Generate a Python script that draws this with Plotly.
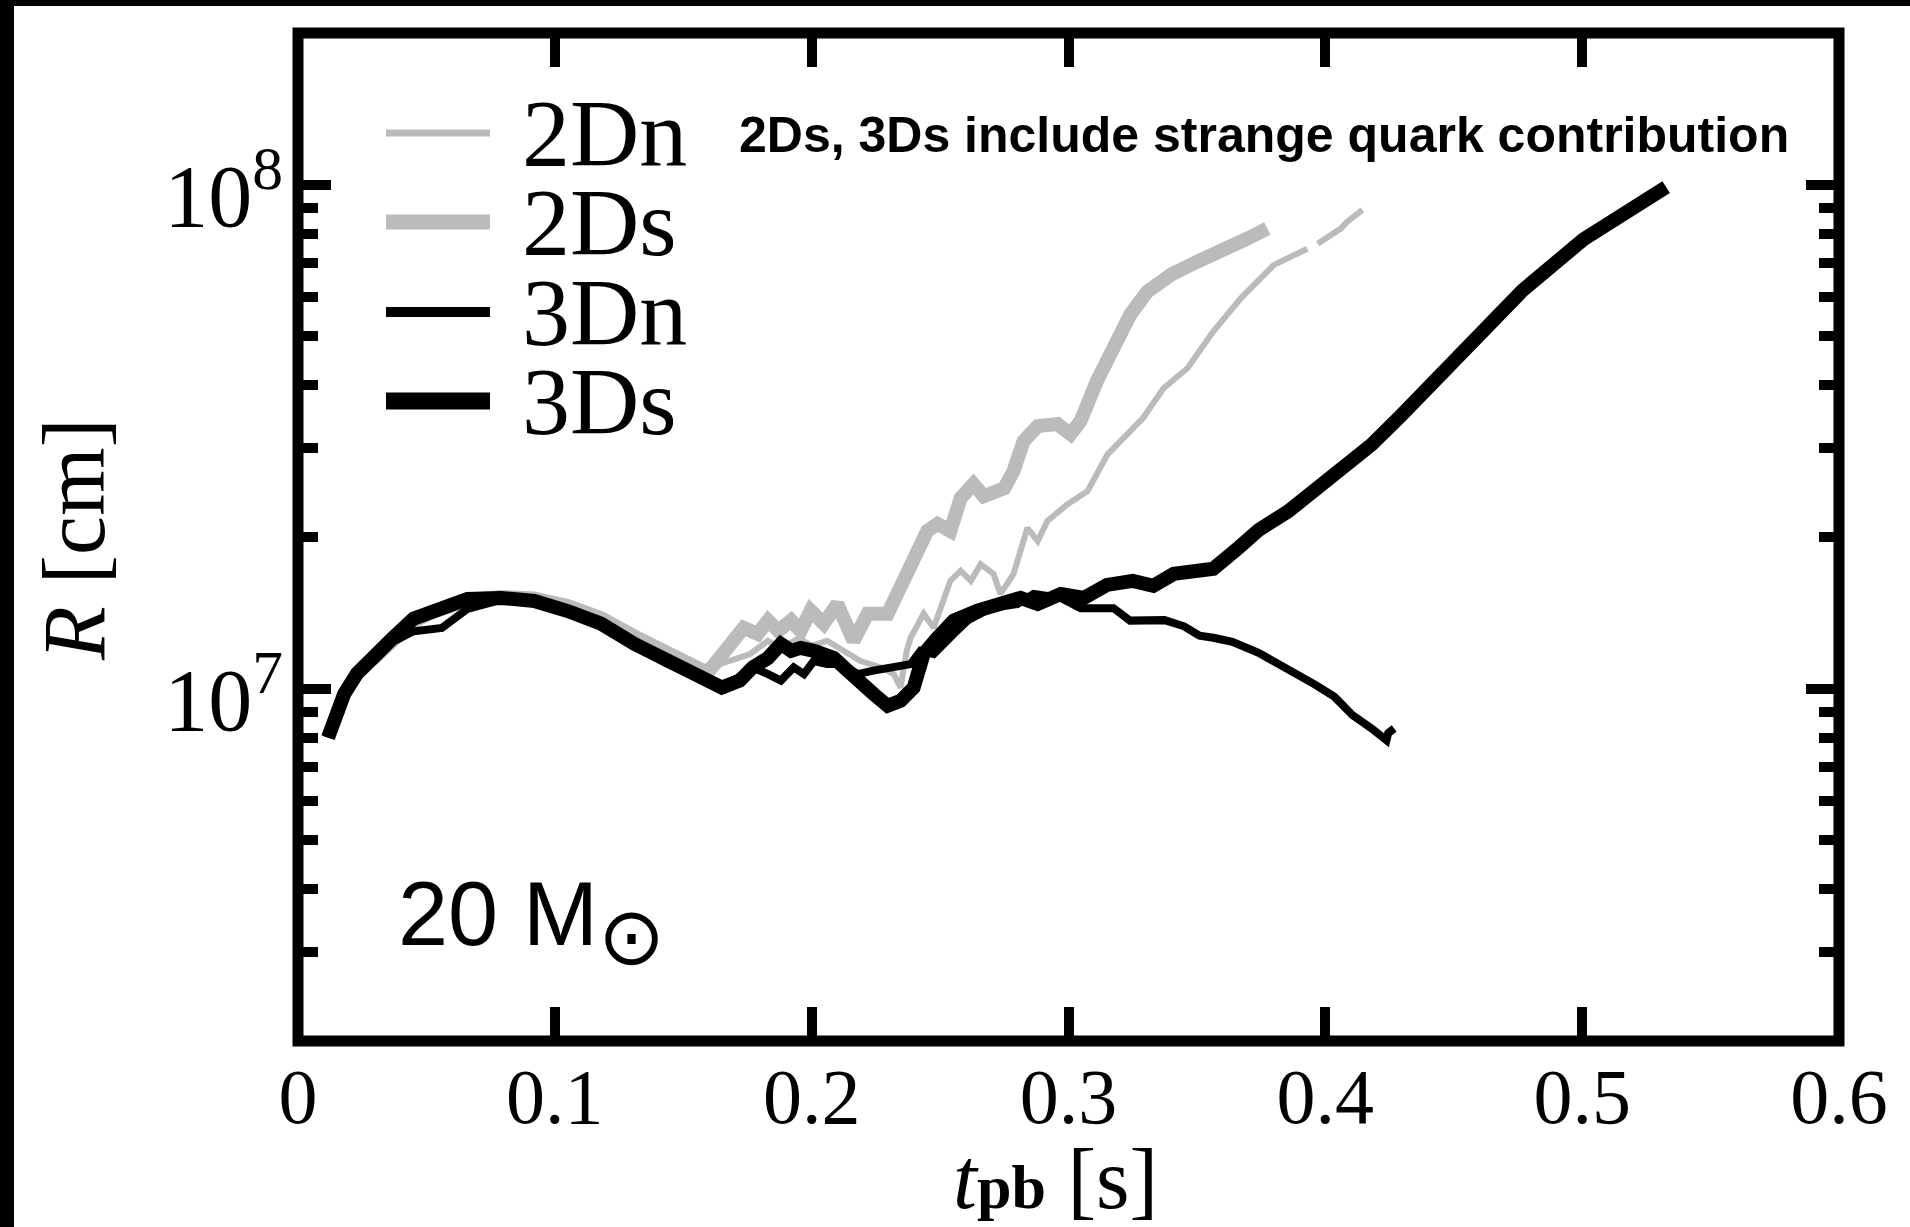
import math
import plotly.graph_objects as go

# ---------------- data ----------------
t_2Dn = [0.0117, 0.014, 0.018, 0.023, 0.030, 0.037, 0.045, 0.051, 0.056, 0.066, 0.079, 0.092, 0.105,
         0.118, 0.131, 0.144, 0.157, 0.160, 0.165, 0.172, 0.176, 0.183, 0.188, 0.195, 0.200, 0.206,
         0.212, 0.219, 0.227, 0.232, 0.2346, 0.237, 0.2385, 0.2436, 0.2475, 0.254, 0.258, 0.262,
         0.2658, 0.2708, 0.2735, 0.2786, 0.284, 0.288, 0.2918, 0.2996, 0.3074, 0.3152, 0.329, 0.337,
         0.3463, 0.3564, 0.367, 0.380, 0.393, 0.395, 0.397, 0.406, 0.4086, 0.4144]
R_2Dn = [8.00e6, 8.77e6, 9.77e6, 1.072e7, 1.151e7, 1.262e7, 1.36e7, 1.41e7, 1.44e7, 1.50e7, 1.52e7,
         1.51e7, 1.46e7, 1.38e7, 1.27e7, 1.17e7, 1.09e7, 1.084e7, 1.122e7, 1.151e7, 1.172e7, 1.245e7,
         1.202e7, 1.259e7, 1.216e7, 1.245e7, 1.189e7, 1.135e7, 1.102e7, 1.069e7, 1.005e7, 1.189e7,
         1.262e7, 1.409e7, 1.321e7, 1.637e7, 1.714e7, 1.637e7, 1.766e7, 1.690e7, 1.542e7, 1.690e7,
         2.084e7, 1.963e7, 2.153e7, 2.323e7, 2.466e7, 2.917e7, 3.443e7, 3.945e7, 4.325e7, 5.117e7,
         5.943e7, 6.934e7, 7.464e7, None, 7.638e7, 8.185e7, 8.453e7, 8.913e7]

t_2Ds = [0.0117, 0.014, 0.018, 0.023, 0.030, 0.037, 0.045, 0.051, 0.056, 0.066, 0.079, 0.092, 0.105,
         0.118, 0.131, 0.144, 0.157, 0.160, 0.1646, 0.169, 0.1735, 0.179, 0.183, 0.187, 0.192, 0.1957,
         0.1996, 0.2047, 0.210, 0.2163, 0.2218, 0.2296, 0.2346, 0.2397, 0.245, 0.249, 0.254, 0.258,
         0.263, 0.267, 0.275, 0.2786, 0.2825, 0.288, 0.2957, 0.3008, 0.3047, 0.311, 0.3175, 0.324,
         0.3307, 0.340, 0.350, 0.363, 0.3696, 0.3774]
R_2Ds = [8.00e6, 8.77e6, 9.77e6, 1.072e7, 1.151e7, 1.262e7, 1.36e7, 1.41e7, 1.44e7, 1.50e7, 1.52e7,
         1.51e7, 1.46e7, 1.38e7, 1.27e7, 1.17e7, 1.09e7, 1.084e7, 1.151e7, 1.23e7, 1.321e7, 1.285e7,
         1.365e7, 1.303e7, 1.365e7, 1.303e7, 1.429e7, 1.346e7, 1.472e7, 1.245e7, 1.409e7, 1.409e7,
         1.585e7, 1.766e7, 2.056e7, 2.123e7, 2.056e7, 2.388e7, 2.547e7, 2.410e7, 2.500e7, 2.704e7,
         3.097e7, 3.319e7, 3.350e7, 3.199e7, 3.396e7, 4.074e7, 4.732e7, 5.521e7, 6.138e7, 6.637e7,
         7.031e7, 7.464e7, 7.816e7, 8.185e7]

t_3Dn = [0.0117, 0.014, 0.018, 0.023, 0.030, 0.037, 0.045, 0.051, 0.056, 0.066, 0.079, 0.092, 0.105,
         0.118, 0.131, 0.144, 0.157, 0.165, 0.1735, 0.178, 0.183, 0.188, 0.193, 0.197, 0.2008, 0.206,
         0.211, 0.218, 0.224, 0.232, 0.2385, 0.2424, 0.2475, 0.2553, 0.2607, 0.2696, 0.280, 0.2864,
         0.297, 0.3047, 0.3175, 0.324, 0.3374, 0.345, 0.351, 0.3564, 0.3638, 0.374, 0.381, 0.390,
         0.396, 0.4035, 0.4105, 0.418, 0.4226, 0.4238, 0.4245, 0.4268]
R_3Dn = [8.00e6, 8.77e6, 9.77e6, 1.068e7, 1.140e7, 1.24e7, 1.30e7, 1.31e7, 1.32e7, 1.44e7, 1.50e7,
         1.49e7, 1.42e7, 1.335e7, 1.215e7, 1.12e7, 1.05e7, 1.000e7, 1.069e7, 1.096e7, 1.069e7,
         1.038e7, 1.102e7, 1.069e7, 1.135e7, 1.119e7, 1.119e7, 1.069e7, 1.086e7, 1.102e7, 1.119e7,
         1.189e7, 1.172e7, 1.285e7, 1.365e7, 1.445e7, 1.472e7, 1.542e7, 1.514e7, 1.445e7, 1.445e7,
         1.365e7, 1.368e7, 1.330e7, 1.274e7, 1.262e7, 1.239e7, 1.178e7, 1.125e7, 1.067e7, 1.019e7,
         9.64e6, 8.87e6, 8.34e6, 8.00e6, 7.90e6, 8.17e6, 8.34e6]

t_3Ds = [0.0117, 0.014, 0.018, 0.023, 0.030, 0.037, 0.045, 0.051, 0.056, 0.066, 0.079, 0.092, 0.105,
         0.118, 0.131, 0.144, 0.157, 0.165, 0.172, 0.177, 0.183, 0.188, 0.192, 0.1957, 0.2008, 0.2086,
         0.214, 0.219, 0.224, 0.2296, 0.2346, 0.2397, 0.2436, 0.249, 0.2553, 0.2646, 0.2735, 0.2813,
         0.288, 0.297, 0.306, 0.315, 0.325, 0.333, 0.341, 0.3525, 0.3564, 0.3665, 0.374, 0.3856,
         0.3946, 0.405, 0.418, 0.4294, 0.4531, 0.4768, 0.5005, 0.5194, 0.5327]
R_3Ds = [8.00e6, 8.77e6, 9.77e6, 1.072e7, 1.151e7, 1.262e7, 1.377e7, 1.42e7, 1.445e7, 1.507e7,
         1.514e7, 1.493e7, 1.426e7, 1.346e7, 1.227e7, 1.135e7, 1.062e7, 1.005e7, 1.038e7, 1.102e7,
         1.151e7, 1.227e7, 1.189e7, 1.205e7, 1.189e7, 1.151e7, 1.086e7, 1.023e7, 9.77e6, 9.25e6,
         9.46e6, 1.005e7, 1.172e7, 1.262e7, 1.365e7, 1.429e7, 1.472e7, 1.514e7, 1.472e7, 1.542e7,
         1.514e7, 1.607e7, 1.637e7, 1.600e7, 1.690e7, 1.714e7, 1.730e7, 1.910e7, 2.065e7, 2.25e7,
         2.45e7, 2.70e7, 3.05e7, 3.48e7, 4.60e7, 6.17e7, 7.79e7, 9.06e7, 9.89e7]

series_names = ["2Dn", "2Ds", "3Dn", "3Ds"]
series_colors = ["#bbbbbb", "#bbbbbb", "#000000", "#000000"]
series_widths = [6, 14, 8, 14]
legend_widths = [7, 15, 10, 17]

x_tickvals = [0, 0.1, 0.2, 0.3, 0.4, 0.5, 0.6]
x_ticktext = ["0", "0.1", "0.2", "0.3", "0.4", "0.5", "0.6"]
y_tickvals = [1e7, 1e8]
y_ticktext = ["10<sup>7</sup>", "10<sup>8</sup>"]
y_minor = [3e6, 4e6, 5e6, 6e6, 7e6, 8e6, 9e6, 2e7, 3e7, 4e7, 5e7, 6e7, 7e7, 8e7, 9e7]
y_range = [2e6, 2e8]
x_range = [0, 0.6]

note_text = "2Ds, 3Ds include strange quark contribution"
mass_text = "20 M<sub><span style=\"font-size:80px\">\u2299</span></sub>"
x_title = "<i>t</i><span style=\"font-size:62px\"><b>pb</b></span> [s]"
y_title = "<i>R</i> [cm]"

# ---------------- layout geometry (pixels) ----------------
W, H = 1910, 1227
PL, PR, PT, PB = 298, 1839, 33, 1041
PW, PH = PR - PL, PB - PT


def px(x):
    return (x - PL) / PW


def py(y):
    return (PB - y) / PH


SERIF = "Liberation Serif"
SANS = "Liberation Sans"

fig = go.Figure()
all_t = [t_2Dn, t_2Ds, t_3Dn, t_3Ds]
all_R = [R_2Dn, R_2Ds, R_3Dn, R_3Ds]
for name, t, R, c, w in zip(series_names, all_t, all_R, series_colors, series_widths):
    fig.add_trace(go.Scatter(x=t, y=R, mode="lines", name=name,
                             line=dict(color=c, width=w), connectgaps=False,
                             showlegend=False))

shapes = []
annotations = []

# black border strips of the original picture
shapes.append(dict(type="rect", xref="paper", yref="paper", x0=px(0), x1=px(14),
                   y0=py(H), y1=py(0), fillcolor="black", line=dict(width=0), layer="above"))
shapes.append(dict(type="rect", xref="paper", yref="paper", x0=px(0), x1=px(W),
                   y0=py(6), y1=py(0), fillcolor="black", line=dict(width=0), layer="above"))
# frame
shapes.append(dict(type="rect", xref="paper", yref="paper", x0=0, x1=1, y0=0, y1=1,
                   line=dict(color="black", width=11), fillcolor="rgba(0,0,0,0)", layer="above"))

# custom legend
leg_y = [133, 222, 312, 401]
for name, c, w, yy in zip(series_names, series_colors, legend_widths, leg_y):
    shapes.append(dict(type="line", xref="paper", yref="paper", x0=px(386), x1=px(490),
                       y0=py(yy), y1=py(yy), line=dict(color=c, width=w), layer="above"))
    annotations.append(dict(text=name, xref="paper", yref="paper", x=px(520), y=py(yy),
                            xanchor="left", yanchor="middle", showarrow=False,
                            height=86, valign="middle",
                            font=dict(family=SERIF, size=96, color="black")))

annotations.append(dict(text=note_text, xref="paper", yref="paper", x=px(737), y=py(135),
                        xanchor="left", yanchor="middle", showarrow=False,
                        font=dict(family=SANS, size=50, color="black", weight="bold")))
annotations.append(dict(text=mass_text, xref="paper", yref="paper", x=px(396), y=py(922),
                        xanchor="left", yanchor="middle", showarrow=False,
                        font=dict(family=SANS, size=90, color="black")))
# axis titles
annotations.append(dict(text=y_title, xref="paper", yref="paper", x=px(74), y=py(539),
                        xanchor="center", yanchor="middle", textangle=-90, showarrow=False,
                        font=dict(family=SERIF, size=88, color="black")))
annotations.append(dict(text=x_title, xref="paper", yref="paper",
                        x=px(1055), y=py(1179), xanchor="center", yanchor="middle",
                        showarrow=False, font=dict(family=SERIF, size=86, color="black")))

fig.update_layout(
    width=W, height=H, autosize=False,
    margin=dict(l=PL, r=W - PR, t=PT, b=H - PB, pad=0),
    paper_bgcolor="white", plot_bgcolor="white",
    showlegend=False,
    shapes=shapes, annotations=annotations,
    xaxis=dict(range=x_range, tickmode="array", tickvals=x_tickvals, ticktext=x_ticktext,
               ticks="inside", ticklen=34, tickwidth=10, tickcolor="black", mirror="ticks",
               showline=False, showgrid=False, zeroline=False,
               tickfont=dict(family=SERIF, size=78, color="black"),
               ticklabelstandoff=3),
    yaxis=dict(type="log", range=[math.log10(y_range[0]), math.log10(y_range[1])],
               tickmode="array", tickvals=y_tickvals, ticktext=y_ticktext,
               ticks="inside", ticklen=33, tickwidth=10, tickcolor="black", mirror="ticks",
               showline=False, showgrid=False, zeroline=False,
               tickfont=dict(family=SERIF, size=88, color="black"),
               ticklabelstandoff=14, ticklabelshift=10,
               minor=dict(tickmode="array", tickvals=y_minor, ticks="inside", ticklen=20,
                          tickwidth=10, tickcolor="black", showgrid=False)),
)

fig.write_html("out.html")
